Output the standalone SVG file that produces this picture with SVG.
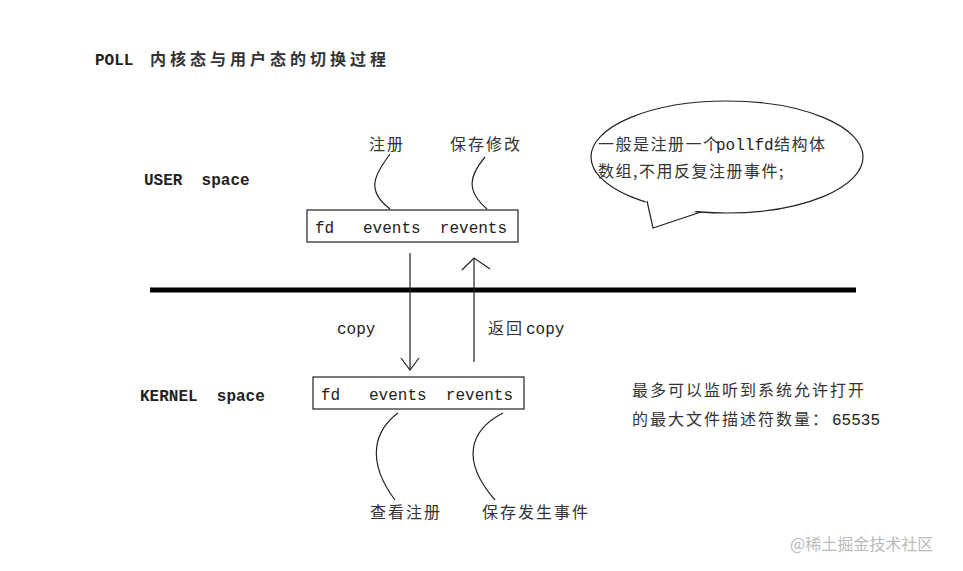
<svg xmlns="http://www.w3.org/2000/svg" width="963" height="571" viewBox="0 0 963 571" xml:space="preserve">
<style>
.t{font-family:"Liberation Mono","Noto Sans CJK SC",monospace;font-size:16px;fill:#222;white-space:pre}
.b{font-weight:bold}
.c{font-family:"Noto Sans CJK SC",sans-serif;font-size:16px;fill:#333;letter-spacing:2px}
.l{fill:none;stroke:#222;stroke-width:1.2}
</style>
<rect width="963" height="571" fill="#fff"/>
<text class="t b" x="95" y="65">POLL </text>
<text class="c" x="150" y="65" font-size="17" style="letter-spacing:4px" font-weight="bold">内核态与用户态的切换过程</text>
<text class="t b" x="144" y="185">USER  space</text>
<text class="t b" x="140" y="401">KERNEL  space</text>
<line x1="150" y1="290" x2="856" y2="290" stroke="#000" stroke-width="5"/>
<g id="user">
<rect class="l" x="307" y="210" width="211" height="32"/>
<text class="t" x="315" y="233">fd   events  revents</text>
</g>
<g id="kernel">
<rect class="l" x="313" y="377" width="211" height="32"/>
<text class="t" x="321" y="400">fd   events  revents</text>
</g>
<g id="labels">
<text class="c" x="369" y="150">注册</text>
<text class="c" x="450" y="150">保存修改</text>
<text class="c" x="370" y="518">查看注册</text>
<text class="c" x="482" y="518">保存发生事件</text>
<text class="t" x="337" y="334">copy</text>
<text class="c" x="488" y="334">返回</text><text class="t" x="526" y="334">copy</text>
<text class="c" x="632" y="396">最多可以监听到系统允许打开</text>
<text class="c" x="632" y="425">的最大文件描述符数量：</text><text class="t" x="832" y="425" font-size="17">65535</text>
</g>
<g id="bubble">
<ellipse class="l" cx="727" cy="157" rx="136" ry="56" fill="#fff"/>
<path d="M644,196 L653,228 L704,208 Z" fill="#fff"/>
<path class="l" d="M647,201 L653,228 L701,212"/>
<text class="c" x="598" y="150" style="letter-spacing:1.5px">一般是注册一个</text><text class="t" x="716" y="150">pollfd</text><text class="c" x="774" y="150" style="letter-spacing:1.5px">结构体</text>
<text class="c" x="598" y="177" style="letter-spacing:1.5px">数组,不用反复注册事件;</text>
</g>
<g id="connectors">
<path class="l" d="M390,154 C375,175 365,190 390,209"/>
<path class="l" d="M485,157 C470,175 465,190 487,209"/>
<path class="l" d="M398,413 C375,430 365,460 395,500"/>
<path class="l" d="M503,413 C470,430 460,460 495,500"/>
<line class="l" x1="410" y1="253" x2="410" y2="370"/>
<path class="l" d="M401,358 L410,370 L419,358"/>
<line class="l" x1="474" y1="362" x2="474" y2="258"/>
<path class="l" d="M462,270 L474,258 L490,269"/>
</g>
<text x="790" y="550" font-family="Noto Sans CJK SC,sans-serif" font-size="16" fill="#bbb">@稀土掘金技术社区</text>
</svg>
